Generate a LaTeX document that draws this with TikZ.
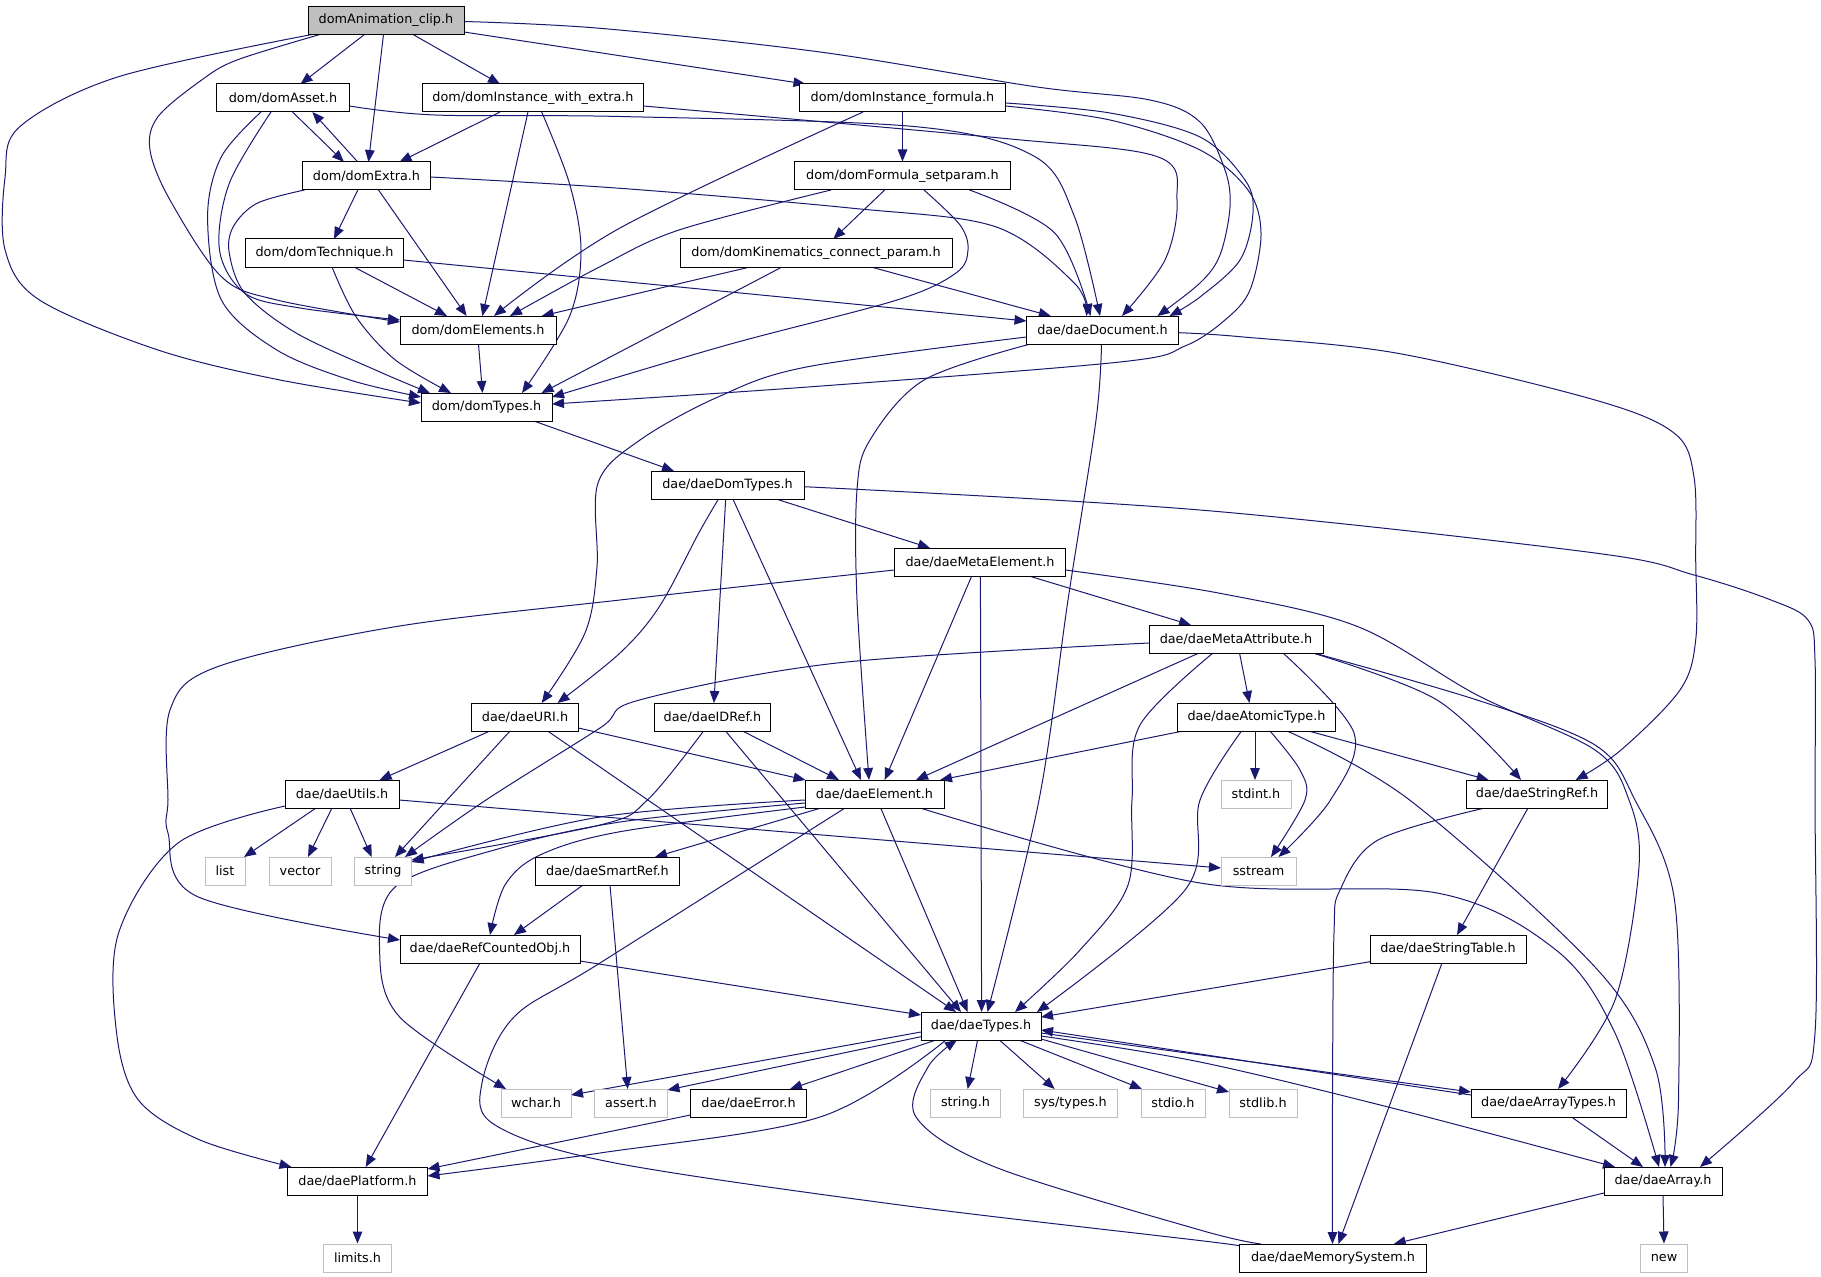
\documentclass[tikz,border=0pt]{standalone}
\usepackage{fontspec}
\setmainfont{DejaVu Sans}
\usetikzlibrary{arrows.meta,calc}
\pgfdeclarelayer{bg}
\pgfsetlayers{bg,main}
\definecolor{edgec}{RGB}{25,25,112}
\definecolor{greyext}{RGB}{191,191,191}
\begin{document}
\begin{tikzpicture}[x=0.75pt,y=-0.75pt,
  every node/.style={font=\fontsize{9.6}{11}\selectfont, inner sep=1pt, minimum height=21pt, line width=0.75pt, rectangle},
  int/.style={draw=black, fill=white},
  extn/.style={draw=greyext, fill=white},
  root/.style={draw=black, fill=greyext},
  wd/.style={minimum width=#1*0.75pt},
  edg/.style={draw=edgec, line width=0.75pt, -{Triangle[length=9pt,width=7.2pt]}},
  sm/.style={smooth, tension=0.55}]
\useasboundingbox (0,0) rectangle (1821,1277);
% nodes
\node[root,wd=156] (A) at (386,20.5) {domAnimation\_clip.h};
\node[int,wd=133] (As) at (283,98) {dom/domAsset.h};
\node[int,wd=221] (IWE) at (533,98) {dom/domInstance\_with\_extra.h};
\node[int,wd=206] (IF) at (902.5,98) {dom/domInstance\_formula.h};
\node[int,wd=128] (Ex) at (366.5,176) {dom/domExtra.h};
\node[int,wd=216] (FS) at (902.5,176) {dom/domFormula\_setparam.h};
\node[int,wd=158] (Te) at (324.5,253) {dom/domTechnique.h};
\node[int,wd=272] (KC) at (816,253) {dom/domKinematics\_connect\_param.h};
\node[int,wd=156] (El) at (478,330) {dom/domElements.h};
\node[int,wd=152] (Do) at (1102.5,330) {dae/daeDocument.h};
\node[int,wd=131] (Ty) at (486.5,407) {dom/domTypes.h};
\node[int,wd=153] (DT) at (727.5,485) {dae/daeDomTypes.h};
\node[int,wd=171] (ME) at (980,562) {dae/daeMetaElement.h};
\node[int,wd=174] (MA) at (1236,639) {dae/daeMetaAttribute.h};
\node[int,wd=107] (URI) at (525,717) {dae/daeURI.h};
\node[int,wd=116] (ID) at (712.5,717) {dae/daeIDRef.h};
\node[int,wd=158] (AT) at (1256.5,717) {dae/daeAtomicType.h};
\node[int,wd=114] (Ut) at (342,794) {dae/daeUtils.h};
\node[int,wd=139] (E) at (874.5,794) {dae/daeElement.h};
\node[int,wd=141] (SR) at (1537,794) {dae/daeStringRef.h};
\node[extn,wd=70] (stdint) at (1256,794) {stdint.h};
\node[extn,wd=40] (list) at (225,871) {list};
\node[extn,wd=62] (vector) at (300,871) {vector};
\node[extn,wd=57] (string) at (383,871) {string};
\node[int,wd=144] (SmR) at (607.5,871) {dae/daeSmartRef.h};
\node[extn,wd=75] (sstream) at (1258.5,871) {sstream};
\node[int,wd=180] (RCO) at (490,949) {dae/daeRefCountedObj.h};
\node[int,wd=156] (ST) at (1448,949) {dae/daeStringTable.h};
\node[int,wd=120] (T) at (981,1026) {dae/daeTypes.h};
\node[extn,wd=70] (wchar) at (536,1103) {wchar.h};
\node[extn,wd=73] (assert) at (631,1103) {assert.h};
\node[int,wd=116] (Err) at (748.5,1103) {dae/daeError.h};
\node[extn,wd=70] (stringh) at (965.5,1103) {string.h};
\node[extn,wd=94] (systypes) at (1070.5,1103) {sys/types.h};
\node[extn,wd=64] (stdio) at (1173,1103) {stdio.h};
\node[extn,wd=68] (stdlib) at (1263,1103) {stdlib.h};
\node[int,wd=155] (AT2) at (1548.5,1103) {dae/daeArrayTypes.h};
\node[int,wd=140] (Pl) at (357.5,1181) {dae/daePlatform.h};
\node[int,wd=118] (Arr) at (1663,1181) {dae/daeArray.h};
\node[extn,wd=68] (limits) at (357.5,1258) {limits.h};
\node[int,wd=187] (MS) at (1333,1258) {dae/daeMemorySystem.h};
\node[extn,wd=47] (new) at (1664,1258) {new};
% edges
\begin{pgfonlayer}{bg}
% domAnimation_clip
\draw[edg] ($(A)+(-21.5,14)$) -- ($(As)+(17.5,-14)$);
\draw[edg] ($(A)+(-2.5,14)$) -- ($(Ex)+(2,-14)$);
\draw[edg] ($(A)+(27,14)$) -- ($(IWE)+(-33,-14)$);
\draw[edg] ($(A)+(78,11.5)$) -- ($(IF)+(-97,-14)$);
\draw[edg] plot[sm] coordinates {($(A)+(78,1)$) (600,28.3) (820,52) (1035,86.7) (1150,100) (1200,122) (1225,170) (1230,207) (1220,255) (1200,283) ($(Do)+(55,-14)$)};
\draw[edg] plot[sm] coordinates {($(A)+(-66,14)$) (237,60) (201.7,80) (158,116.7) (150,150) (170,200) (221.4,276.7) (276.8,300) ($(El)+(-78,-8)$)};
\draw[edg] plot[sm] coordinates {($(A)+(-74,14)$) (118.6,76.7) (19.8,126.7) (5.1,176.7) (5.1,250) (39.5,300) (158,350) (280,380) ($(Ty)+(-65.5,-4)$)};
% domAsset
\draw[edg] ($(As)+(9.5,14)$) -- ($(Ex)+(-22.5,-14)$);
\draw[edg] plot[sm] coordinates {($(As)+(-12,14)$) (229.3,183.3) (219.5,250) (245,293.3) (300,308) ($(El)+(-78,-10)$)};
\draw[edg] plot[sm] coordinates {($(As)+(-22,14)$) (221.4,156.7) (207.6,216.7) (221.4,300) (276.8,350) (350,380) ($(Ty)+(-65.5,-10)$)};
\draw[edg] plot[sm] coordinates {($(As)+(66.5,8)$) (435,115) (620,116.5) (916,126.7) (1035,156.7) (1074.5,216.7) ($(Do)+(-2.5,-14)$)};
% domExtra
\draw[edg] ($(Ex)+(-8.7,-14)$) -- ($(As)+(29.4,14)$);
\draw[edg] ($(Ex)+(-8.7,14)$) -- ($(Te)+(9.5,-14)$);
\draw[edg] ($(Ex)+(12,14)$) -- ($(El)+(-11.4,-14)$);
\draw[edg] plot[sm] coordinates {($(Ex)+(-62,14)$) (257,203.3) (233.3,226.7) (229.3,253.3) (245,293.3) (296.6,333.3) (380,372) ($(Ty)+(-56.5,-14)$)};
\draw[edg] plot[sm] coordinates {($(Ex)+(64,1)$) (620,188.3) (850,208) (995.4,226.7) (1074.5,283.3) ($(Do)+(-16,-14)$)};
% domTechnique
\draw[edg] ($(Te)+(29.5,14)$) -- ($(El)+(-31,-14)$);
\draw[edg] plot[sm] coordinates {($(Te)+(7.5,14)$) (356,316.7) (395.4,360) ($(Ty)+(-35.5,-14)$)};
\draw[edg] ($(Te)+(79,7)$) -- ($(Do)+(-76,-9)$);
% domInstance_with_extra
\draw[edg] ($(IWE)+(-33,14)$) -- ($(Ex)+(33,-14)$);
\draw[edg] ($(IWE)+(-5,14)$) -- ($(El)+(4.4,-14)$);
\draw[edg] plot[sm] coordinates {($(IWE)+(8.7,14)$) (569.4,183.3) (581,250) (569.4,316.7) ($(Ty)+(35.5,-14)$)};
\draw[edg] plot[sm] coordinates {($(IWE)+(110.5,8)$) (1000,138) (1157.5,156.7) (1177,200) (1165,260) ($(Do)+(19.5,-14)$)};
% domInstance_formula
\draw[edg] (IF.south) -- (FS.north);
\draw[edg] plot[sm] coordinates {($(IF)+(-39.5,14)$) (620,228) ($(El)+(16,-14)$)};
\draw[edg] plot[sm] coordinates {($(IF)+(103,5)$) (1110,113) (1200,137) (1245,180) (1253,213) (1240,260) (1200,297) ($(Do)+(67,-14)$)};
\draw[edg] plot[sm] coordinates {($(IF)+(103,8)$) (1110,120) (1200,150) (1248,190) (1261,233) (1250,290) (1225,320) (1185,346) (1120,362) (808,387) ($(Ty)+(65.5,-3)$)};
% domFormula_setparam
\draw[edg] ($(FS)+(-17.8,14)$) -- ($(KC)+(17.3,-14)$);
\draw[edg] plot[sm] coordinates {($(FS)+(-71.5,14)$) (679,230) (600,266.7) ($(El)+(32,-14)$)};
\draw[edg] plot[sm] coordinates {($(FS)+(21.5,14)$) (960,225) (968,250) (956,273) (897,300) (727,345) ($(Ty)+(65.5,-10)$)};
\draw[edg] plot[sm] coordinates {($(FS)+(67,14)$) (1054.7,233) ($(Do)+(-12,-14)$)};
% domKinematics_connect_param
\draw[edg] ($(KC)+(-66,14)$) -- ($(El)+(63.7,-14)$);
\draw[edg] ($(KC)+(-34,14)$) -- ($(Ty)+(55,-14)$);
\draw[edg] ($(KC)+(55,14)$) -- ($(Do)+(-51.7,-14)$);
% domElements, domTypes
\draw[edg] ($(El)+(0.5,14)$) -- ($(Ty)+(-4,-14)$);
\draw[edg] ($(Ty)+(47.3,14)$) -- ($(DT)+(-53.5,-14)$);
% daeDocument
\draw[edg] plot[sm] coordinates {($(Do)+(-1,14)$) (1096,420) (1068,600) (1039,800) ($(T)+(6.5,-14)$)};
\draw[edg] plot[sm] coordinates {($(Do)+(-72,14)$) (924,380) (870,440) (857,490) (857,600) ($(E)+(-5.5,-14)$)};
\draw[edg] plot[sm] coordinates {($(Do)+(-76,7)$) (808,366.7) (718.6,396.7) (640,440) (598,483) (597,566.7) (585,633) ($(URI)+(16.7,-14)$)};
\draw[edg] plot[sm] coordinates {($(Do)+(76,2.7)$) (1240,336.7) (1397.7,353.3) (1595,400) (1674,433) (1694,477) (1695.7,560) (1695.7,640) (1680,690) (1621,750) ($(SR)+(38.6,-14)$)};
% daeDomTypes
\draw[edg] plot[sm] coordinates {($(DT)+(-9,14)$) (698.8,533) (659.3,606.7) (620,653) ($(URI)+(32.5,-14)$)};
\draw[edg] ($(DT)+(-1.8,14)$) -- ($(ID)+(1.4,-14)$);
\draw[edg] ($(DT)+(5.4,14)$) -- ($(E)+(-13.5,-14)$);
\draw[edg] ($(DT)+(48.5,14)$) -- ($(ME)+(-50,-14)$);
\draw[edg] plot[sm] coordinates {($(DT)+(76.5,1.7)$) (1200,510) (1595,553) (1694,575) (1771,600) (1808,620) (1815,660) (1815,800) (1815,1033) (1793,1083) ($(Arr)+(37,-14)$)};
% daeMetaElement
\draw[edg] plot[sm] coordinates {($(ME)+(-85.5,8)$) (620,600) (395.4,626.7) (217.5,666.7) (170,710) (168,800) (168,833) (197.7,896.7) ($(RCO)+(-90,-9)$)};
\draw[edg] ($(ME)+(-8.3,14)$) -- ($(E)+(10.2,-14)$);
\draw[edg] ($(ME)+(0.4,14)$) -- ($(T)+(0.6,-14)$);
\draw[edg] ($(ME)+(49,14)$) -- ($(MA)+(-45,-14)$);
\draw[edg] plot[sm] coordinates {($(ME)+(85.5,8)$) (1220,593.3) (1358,626.7) (1477,695) (1595,750) (1629,800) (1639,866.7) (1615,1000) ($(AT2)+(9.5,-14)$)};
% daeMetaAttribute
\draw[edg] plot[sm] coordinates {($(MA)+(-87,4)$) (837,663) (639.5,700) (600,728) (486,800) ($(string)+(22,-14)$)};
\draw[edg] ($(MA)+(-37,14)$) -- ($(E)+(41.5,-14)$);
\draw[edg] plot[sm] coordinates {($(MA)+(-23,14)$) (1140,725) (1132,800) (1128,885) (1080,950) ($(T)+(34,-14)$)};
\draw[edg] ($(MA)+(3.5,14)$) -- ($(AT)+(-7,-14)$);
\draw[edg] plot[sm] coordinates {($(MA)+(47,14)$) (1354,733) (1330.5,800) ($(sstream)+(20,-14)$)};
\draw[edg] plot[sm] coordinates {($(MA)+(76.7,14)$) (1437,700) ($(SR)+(-16,-14)$)};
\draw[edg] plot[sm] coordinates {($(MA)+(78,14)$) (1477,700) (1595,745) (1635,800) (1674.5,900) (1678.5,1100) ($(Arr)+(7.5,-14)$)};
% daeAtomicType
\draw[edg] ($(AT)+(-73.5,14)$) -- ($(E)+(65.5,-14)$);
\draw[edg] plot[sm] coordinates {($(AT)+(-15,14)$) (1200,800) (1185,890) ($(T)+(56,-14)$)};
\draw[edg] ($(AT)+(-1.5,14)$) -- ($(stdint)+(-1,-14)$);
\draw[edg] plot[sm] coordinates {($(AT)+(13.5,14)$) (1300,770) (1305,800) ($(sstream)+(12.5,-14)$)};
\draw[edg] plot[sm] coordinates {($(AT)+(30.5,14)$) (1409.6,800) (1595,967) (1655,1067) ($(Arr)+(2,-14)$)};
\draw[edg] ($(AT)+(52,14)$) -- ($(SR)+(-48.3,-14)$);
% daeURI
\draw[edg] ($(URI)+(-35,14)$) -- ($(Ut)+(37.6,-14)$);
\draw[edg] ($(URI)+(-15,14)$) -- ($(string)+(12,-14)$);
\draw[edg] ($(URI)+(22.6,14)$) -- ($(T)+(-25,-14)$);
\draw[edg] ($(URI)+(53.5,11)$) -- ($(E)+(-69,-14)$);
% daeIDRef
\draw[edg] plot[sm] coordinates {($(ID)+(-9,14)$) (647.4,800) (600,825) ($(string)+(28.5,-11)$)};
\draw[edg] ($(ID)+(30,14)$) -- ($(E)+(-35.5,-14)$);
\draw[edg] ($(ID)+(13,14)$) -- ($(T)+(-20,-14)$);
% daeElement
\draw[edg] plot[sm] coordinates {($(E)+(-69.5,6)$) (600,817) ($(string)+(28.5,-9)$)};
\draw[edg] plot[sm] coordinates {($(E)+(-69.5,9)$) (620,822) (494.3,850) (395.4,886.7) (379.6,950) (399.4,1016.7) ($(wchar)+(-30,-14)$)};
\draw[edg] plot[sm] coordinates {($(E)+(-69.5,13)$) (620,831.7) (540,855) (505,885) ($(RCO)+(0,-14)$)};
\draw[edg] ($(E)+(-53.5,14)$) -- ($(SmR)+(47.5,-14)$);
\draw[edg] ($(E)+(6.2,14)$) -- ($(T)+(-13.3,-14)$);
\draw[edg] plot[sm] coordinates {($(E)+(-29.5,14)$) (600,963) (514,1017) (482,1083) (495,1125) (610,1162) (900,1205) (1220,1243) ($(MS)+(-93.5,-10)$)};
\draw[edg] plot[sm] coordinates {($(E)+(45.5,14)$) (1200,883) (1437,893) (1556,950) (1615,1033) ($(Arr)+(-4,-14)$)};
% daeSmartRef, daeRefCountedObj
\draw[edg] ($(SmR)+(-24.5,14)$) -- ($(RCO)+(24,-14)$);
\draw[edg] ($(SmR)+(2.5,14)$) -- ($(assert)+(-3.3,-14)$);
\draw[edg] ($(RCO)+(90,12)$) -- ($(T)+(-60,-11)$);
\draw[edg] ($(RCO)+(-10,14)$) -- ($(Pl)+(8.2,-14)$);
% daeUtils
\draw[edg] plot[sm] coordinates {($(Ut)+(-57,12)$) (178,843) (118.6,933) (116.6,1033) (138.4,1100) (200,1140) ($(Pl)+(-66,-14)$)};
\draw[edg] ($(Ut)+(-26,14)$) -- ($(list)+(19,-14)$);
\draw[edg] ($(Ut)+(-10,14)$) -- ($(vector)+(8,-14)$);
\draw[edg] ($(Ut)+(8,14)$) -- ($(string)+(-11.3,-14)$);
\draw[edg] ($(Ut)+(57,6)$) -- ($(sstream)+(-37.5,-3)$);
% daeTypes
\draw[edg] ($(T)+(-60,6)$) -- ($(wchar)+(35,-8)$);
\draw[edg] ($(T)+(-60,10.7)$) -- ($(assert)+(36.5,-13)$);
\draw[edg] ($(T)+(-45,14)$) -- ($(Err)+(41.5,-14)$);
\draw[edg] plot[sm] coordinates {($(T)+(-35,14)$) (821,1116.7) (600,1153) ($(Pl)+(70,-5)$)};
\draw[edg] ($(T)+(-3.4,14)$) -- ($(stringh)+(2.2,-14)$);
\draw[edg] ($(T)+(18.4,14)$) -- ($(systypes)+(-15.8,-14)$);
\draw[edg] ($(T)+(38,14)$) -- ($(stdio)+(-31,-14)$);
\draw[edg] ($(T)+(60,13)$) -- ($(stdlib)+(-34,-11)$);
\draw[edg] ($(T)+(60,7)$) -- ($(AT2)+(-77.5,-11)$);
\draw[edg] plot[sm] coordinates {($(T)+(60,10)$) (1200,1062) (1400,1110) ($(Arr)+(-48,-14)$)};
% others
\draw[edg] ($(Err)+(-58,12)$) -- ($(Pl)+(70,-12)$);
\draw[edg] ($(AT2)+(-77.5,-8)$) -- ($(T)+(60,4)$);
\draw[edg] ($(AT2)+(23,14)$) -- ($(Arr)+(-20,-14)$);
\draw[edg] ($(Arr)+(-59,12)$) -- ($(MS)+(60.7,-14)$);
\draw[edg] (Arr.south) -- (new.north);
\draw[edg] ($(ST)+(-78,12.7)$) -- ($(T)+(60,-9)$);
\draw[edg] ($(ST)+(-6,14)$) -- ($(MS)+(5.4,-14)$);
\draw[edg] ($(SR)+(-9,14)$) -- ($(ST)+(9,-14)$);
\draw[edg] plot[sm] coordinates {($(SR)+(-52.3,14)$) (1378,840) (1340,890) (1334,933) (1332.5,1100) ($(MS)+(-0.5,-14)$)};
\draw[edg] (Pl.south) -- (limits.north);
\draw[edg] plot[sm] coordinates {($(MS)+(-72,-14)$) (1200,1230) (995,1167) (916,1117) (928,1067) ($(T)+(-24,14)$)};
\end{pgfonlayer}
\end{tikzpicture}
\end{document}
